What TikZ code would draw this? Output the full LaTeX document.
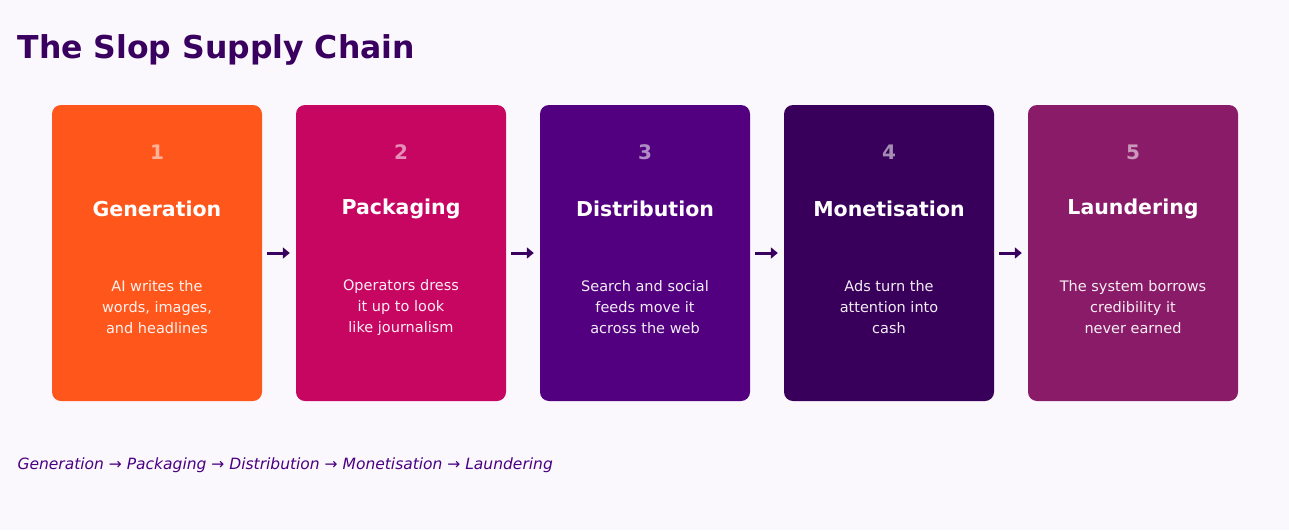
\documentclass[tikz,border=0pt]{standalone}
\usepackage{fontspec}
\setmainfont{DejaVu Sans}
\usetikzlibrary{arrows.meta}
\definecolor{bg}{HTML}{FBF8FD}
\definecolor{c1}{HTML}{FF561B}
\definecolor{c2}{HTML}{C70662}
\definecolor{c3}{HTML}{52007F}
\definecolor{c4}{HTML}{39005B}
\definecolor{c5}{HTML}{8A1B68}
\definecolor{ink}{HTML}{3A0060}
\definecolor{cap}{HTML}{4B0082}
\begin{document}
\begin{tikzpicture}[x=1pt,y=-1pt,
 card/.style={rounded corners=9pt,minimum width=210pt,minimum height=296pt,inner sep=0pt},
 num/.style={text=white,text opacity=0.55,font=\bfseries\fontsize{20}{24}\selectfont},
 ttl/.style={text=white,font=\bfseries\fontsize{20.5}{24}\selectfont},
 body/.style={text=white,text opacity=0.93,align=center,font=\fontsize{14.5}{21}\selectfont},
 arr/.style={draw=ink,line width=3pt,-{Triangle[length=7pt,width=11pt]}}]
\fill[bg] (0,0) rectangle (1289,530);
\node[anchor=west,text=ink,font=\bfseries\fontsize{31.5}{36}\selectfont] (title) at (14,50) {The Slop Supply Chain};
\foreach \i/\x/\c/\t/\b in {1/157/c1/Generation/{AI writes the\\words, images,\\and headlines},
 2/401/c2/Packaging/{Operators dress\\it up to look\\like journalism},
 3/645/c3/Distribution/{Search and social\\feeds move it\\across the web},
 4/889/c4/Monetisation/{Ads turn the\\attention into\\cash},
 5/1133/c5/Laundering/{The system borrows\\credibility it\\never earned}}{
 \node[card,fill=\c] (k\i) at (\x,253) {};
 \node[num] (n\i) at (\x,152) {\i};
 \node[ttl] (t\i) at (\x,209) {\t};
 \node[body] (b\i) at (\x,307) {\b};
}
\foreach \a/\b in {1/2,2/3,3/4,4/5}{
 \draw[arr] ([xshift=5pt]k\a.east) -- ([xshift=-6pt]k\b.west);
}
\node[anchor=west,text=cap,font=\itshape\fontsize{15.5}{18}\selectfont] (caption) at (14,465) {Generation → Packaging → Distribution → Monetisation → Laundering};
\end{tikzpicture}
\end{document}
